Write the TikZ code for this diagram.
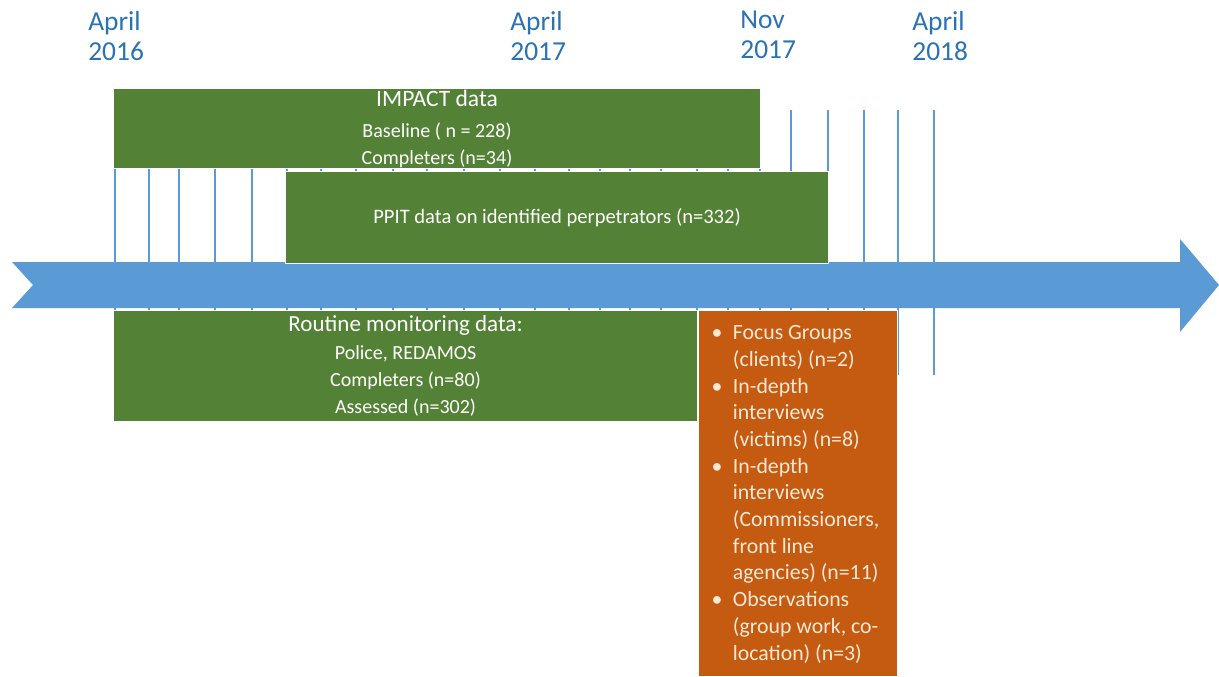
\documentclass[tikz,border=0pt]{standalone}
\usepackage{fontspec}
\setmainfont{Carlito}
\usetikzlibrary{positioning}
\definecolor{lineblue}{HTML}{5B9BD5}
\definecolor{dateblue}{HTML}{2A72B5}
\definecolor{datagreen}{HTML}{538135}
\definecolor{qualorange}{HTML}{C55A11}
\definecolor{qualtextcol}{HTML}{FBE9D6}
\begin{document}
\begin{tikzpicture}[x=0.02cm,y=-0.02cm,line join=round,
	datelabel/.style={anchor=north west,inner sep=0pt,align=left,text=dateblue,font=\fontsize{15.6}{17}\selectfont},
	greenbox/.style={anchor=north west,fill=datagreen,draw=white,line width=0.7pt,text=white,align=center,inner sep=0pt,font=\fontsize{11.4}{15.2}\selectfont},
	orangebox/.style={anchor=north west,fill=qualorange,draw=white,line width=0.7pt,inner sep=0pt},
	ticklines/.style={lineblue,line width=1.4pt}]
	\useasboundingbox (0,0) rectangle (1219,676);
	\path (88,11) node[datelabel] (apr16) {April\\2016}
	(510,11) node[datelabel] (apr17) {April\\2017}
	(740,11) node[datelabel] (nov17) {Nov\\2017}
	(912,11) node[datelabel] (apr18) {April\\2018};
	\foreach \x in {115,149,179,215,252,287,321,356,393,427,464,500,535,569,600,630,661,697,728,760,791,828,864,898,934}
		\draw[ticklines] (\x,110)--(\x,375);
	\fill[lineblue] (12,262)--(1180,262)--(1180,239)--(1219,285)--(1180,332)--(1180,308)--(12,308)--(33,285)--cycle;
	\node[greenbox,minimum width=12.94cm,minimum height=1.6cm] (impact) at (113,88)
		{{\fontsize{13.4}{15.6}\selectfont IMPACT data}\\[2.6pt]Baseline ( n = 228)\\Completers (n=34)};
	\node[greenbox,minimum width=10.86cm,minimum height=1.84cm,font=\fontsize{11.7}{14}\selectfont] (ppit) at (285,171)
		{PPIT data on identified perpetrators (n=332)};
	\node[greenbox,minimum width=11.68cm,minimum height=2.22cm] (routine) at (113,310)
		{{\fontsize{13.1}{17.4}\selectfont Routine monitoring data:}\\[0.8pt]Police, REDAMOS\\Completers (n=80)\\[0.5pt]Assessed (n=302)};
	\node[orangebox,minimum width=3.98cm,minimum height=7.32cm] (qual) at (698,310) {};
	\node[anchor=north west,inner sep=0pt,text=qualtextcol,font=\fontsize{12.4}{15.2}\selectfont,below right=6pt and 7.5pt of qual.north west] (methods)
		{\begin{tabular}{@{}l@{\hspace{6pt}}l@{}}
		\textbullet & Focus Groups\\
		& (clients) (n=2)\\
		\textbullet & In-depth\\
		& interviews\\
		& (victims) (n=8)\\
		\textbullet & In-depth\\
		& interviews\\
		& (Commissioners,\\
		& front line\\
		& agencies) (n=11)\\
		\textbullet & Observations\\
		& (group work, co-\\
		& location) (n=3)
		\end{tabular}};
\end{tikzpicture}
\end{document}
